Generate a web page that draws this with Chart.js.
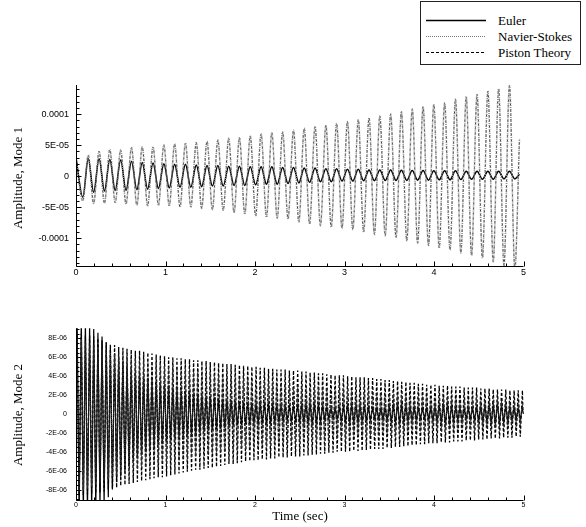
<!DOCTYPE html>
<html><head><meta charset="utf-8">
<script src="https://cdn.jsdelivr.net/npm/chart.js@4/dist/chart.umd.min.js"></script>
<style>
html,body{margin:0;padding:0;background:#fff;}
body{width:586px;height:527px;position:relative;overflow:hidden;font-family:"Liberation Serif","Times New Roman",serif;color:#000;}
canvas{position:absolute;left:0;}
#c1{top:0;}
#c2{top:300px;}
.ytitle{position:absolute;font-size:13px;white-space:nowrap;transform:translate(-50%,-50%) rotate(-90deg);line-height:13px;}
#xtitle{position:absolute;font-size:13px;white-space:nowrap;transform:translate(-50%,-50%);line-height:13px;}
#legend{position:absolute;left:420px;top:1px;width:161px;height:64px;border:1px solid #222;box-sizing:border-box;background:#fff;}
.lrow{position:absolute;left:0;height:13px;line-height:13px;font-size:13px;white-space:nowrap;}
.lrow svg{position:absolute;left:5px;top:5px;}
.lrow span{position:absolute;left:77px;top:0;}
</style>
</head><body>
<canvas id="c1" width="586" height="290"></canvas>
<canvas id="c2" width="586" height="227"></canvas>
<div class="ytitle" style="left:17px;top:178px;">Amplitude, Mode 1</div>
<div class="ytitle" style="left:17px;top:415px;">Amplitude, Mode 2</div>
<div id="xtitle" style="left:300px;top:515px;">Time (sec)</div>
<div id="legend">
  <div class="lrow" style="top:12px"><svg width="62" height="3"><line x1="0" y1="1.5" x2="60" y2="1.5" stroke="#000" stroke-width="1.3"/></svg><span>Euler</span></div>
  <div class="lrow" style="top:28px"><svg width="62" height="3"><line x1="0" y1="1.5" x2="60" y2="1.5" stroke="#777" stroke-width="1" stroke-dasharray="1,1"/></svg><span>Navier-Stokes</span></div>
  <div class="lrow" style="top:44px"><svg width="62" height="3"><line x1="0" y1="1.5" x2="60" y2="1.5" stroke="#000" stroke-width="1" stroke-dasharray="3,2"/></svg><span>Piston Theory</span></div>
</div>
<script>
// ---------- Mode 1 (values in units of 1e-5) ----------
const mode1Times = [0,0.076,0.137,0.197,0.258,0.318,0.378,0.438,0.499,0.559,
0.620,0.680,0.740,0.800,0.861,0.921,0.982,1.042,1.102,1.162,
1.223,1.283,1.344,1.404,1.464,1.524,1.585,1.645,1.706,1.766,
1.826,1.886,1.947,2.007,2.068,2.128,2.188,2.248,2.309,2.369,
2.430,2.490,2.550,2.610,2.671,2.731,2.792,2.852,2.912,2.972,
3.033,3.093,3.154,3.214,3.274,3.334,3.395,3.455,3.516,3.576,
3.636,3.696,3.757,3.817,3.878,3.938,3.998,4.058,4.119,4.179,
4.240,4.300,4.360,4.420,4.481,4.541,4.602,4.662,4.722,4.782,
4.843,4.903,4.955];
const nsMode1 = [2.9,
-4.0,3.4,-4.4,4.0,-4.4,4.3,-4.3,4.2,-4.5,4.6,
-4.7,4.7,-4.8,4.7,-4.7,5.0,-4.8,5.2,-5.0,5.3,
-5.0,5.4,-5.2,5.6,-5.4,5.8,-5.5,6.1,-5.9,6.2,
-6.1,6.5,-6.4,6.8,-6.6,7.0,-6.8,7.1,-6.9,7.4,
-7.4,7.7,-7.7,8.0,-8.0,8.2,-8.2,8.5,-8.4,8.8,
-8.6,9.1,-9.0,9.4,-9.4,9.7,-9.6,10.0,-9.9,10.4,
-10.4,10.8,-10.8,11.2,-11.2,11.6,-11.6,11.8,-11.9,12.4,
-12.4,12.8,-12.8,13.2,-13.2,13.7,-13.8,14.1,-14.4,14.6,
-15.0,6.0];
// Piston theory and Navier-Stokes coincide for mode 1 in the picture
const pistonMode1 = [2.9,
-4.0,3.4,-4.4,4.0,-4.4,4.3,-4.3,4.2,-4.5,4.6,
-4.7,4.7,-4.8,4.7,-4.7,5.0,-4.8,5.2,-5.0,5.3,
-5.0,5.4,-5.2,5.6,-5.4,5.8,-5.5,6.1,-5.9,6.2,
-6.1,6.5,-6.4,6.8,-6.6,7.0,-6.8,7.1,-6.9,7.4,
-7.4,7.7,-7.7,8.0,-8.0,8.2,-8.2,8.5,-8.4,8.8,
-8.6,9.1,-9.0,9.4,-9.4,9.7,-9.6,10.0,-9.9,10.4,
-10.4,10.8,-10.8,11.2,-11.2,11.6,-11.6,11.8,-11.9,12.4,
-12.4,12.8,-12.8,13.2,-13.2,13.7,-13.8,14.1,-14.4,14.6,
-15.0,6.0];
const eulerMode1 = [3.0,
-3.4,2.8,-2.6,2.8,-2.4,2.7,-2.3,2.6,-2.3,2.4,
-2.2,2.2,-2.1,2.1,-2.0,2.0,-1.9,1.9,-1.8,1.9,
-1.8,1.8,-1.7,1.7,-1.6,1.7,-1.6,1.6,-1.5,1.6,
-1.5,1.5,-1.4,1.5,-1.3,1.5,-1.3,1.4,-1.2,1.4,
-1.1,1.3,-1.0,1.3,-0.9,1.2,-0.9,1.2,-0.8,1.1,
-0.8,1.1,-0.75,1.0,-0.75,1.0,-0.7,1.0,-0.7,0.95,
-0.7,0.9,-0.65,0.9,-0.65,0.85,-0.6,0.85,-0.6,0.85,
-0.55,0.8,-0.5,0.8,-0.5,0.8,-0.5,0.8,-0.45,0.8,
-0.45,0.3];

// ---------- Mode 2 (values in units of 1e-6) ----------
const mode2Times = [0,
0.012,0.035,0.059,0.082, 0.105,0.128,0.152,0.175, 0.198,0.221,0.245,0.268, 0.291,0.314,0.338,0.361,
0.384,0.407,0.431,0.454, 0.477,0.500,0.524,0.547, 0.570,0.593,0.617,0.640, 0.663,0.686,0.710,0.733,
0.756,0.779,0.803,0.826, 0.849,0.872,0.896,0.919, 0.942,0.965,0.989,1.012, 1.035,1.058,1.082,1.105,
1.128,1.151,1.175,1.198, 1.221,1.244,1.268,1.291, 1.314,1.337,1.361,1.384, 1.407,1.430,1.454,1.477,
1.500,1.523,1.547,1.570, 1.593,1.616,1.640,1.663, 1.686,1.709,1.733,1.756, 1.779,1.802,1.826,1.849,
1.872,1.895,1.919,1.942, 1.965,1.988,2.012,2.035, 2.058,2.081,2.105,2.128, 2.151,2.174,2.198,2.221,
2.244,2.267,2.291,2.314, 2.337,2.360,2.384,2.407, 2.430,2.453,2.477,2.500, 2.523,2.546,2.570,2.593,
2.616,2.639,2.663,2.686, 2.709,2.732,2.756,2.779, 2.802,2.825,2.849,2.872, 2.895,2.918,2.942,2.965,
2.988,3.011,3.035,3.058, 3.081,3.104,3.128,3.151, 3.174,3.197,3.221,3.244, 3.267,3.290,3.314,3.337,
3.360,3.383,3.407,3.430, 3.453,3.476,3.500,3.523, 3.546,3.569,3.593,3.616, 3.639,3.662,3.686,3.709,
3.732,3.755,3.779,3.802, 3.825,3.848,3.872,3.895, 3.918,3.941,3.965,3.988, 4.011,4.034,4.058,4.081,
4.104,4.127,4.151,4.174, 4.197,4.220,4.244,4.267, 4.290,4.313,4.337,4.360, 4.383,4.406,4.430,4.453,
4.476,4.499,4.523,4.546, 4.569,4.592,4.616,4.639, 4.662,4.685,4.709,4.732, 4.755,4.778,4.802,4.825,
4.848,4.871,4.895,4.918, 4.941,4.964,4.988,
5.0];
const pistonMode2 = [0,
8.4,-8.6,8.5,-8.6, 8.3,-8.5,8.3,-8.5, 8.2,-8.4,8.0,-8.3, 7.8,-8.2,7.6,-8.0,
7.4,-7.9,7.3,-7.8, 7.1,-7.6,7.0,-7.5, 6.9,-7.4,6.8,-7.3, 6.7,-7.2,6.7,-7.1,
6.6,-7.0,6.5,-6.9, 6.4,-6.8,6.3,-6.7, 6.2,-6.7,6.1,-6.6, 6.0,-6.5,6.0,-6.4,
5.9,-6.3,5.9,-6.2, 5.8,-6.1,5.8,-6.0, 5.7,-5.9,5.7,-5.9, 5.6,-5.8,5.6,-5.7,
5.5,-5.7,5.5,-5.6, 5.4,-5.5,5.4,-5.4, 5.3,-5.3,5.3,-5.3, 5.2,-5.2,5.2,-5.1,
5.1,-5.0,5.1,-5.0, 5.0,-4.9,5.0,-4.9, 4.9,-4.8,4.9,-4.8, 4.8,-4.7,4.8,-4.7,
4.7,-4.6,4.7,-4.6, 4.7,-4.6,4.6,-4.5, 4.6,-4.5,4.6,-4.5, 4.5,-4.4,4.5,-4.4,
4.4,-4.3,4.4,-4.3, 4.3,-4.2,4.3,-4.2, 4.2,-4.1,4.2,-4.1, 4.1,-4.0,4.1,-4.0,
4.1,-4.0,4.0,-4.0, 4.0,-3.9,3.9,-3.9, 3.9,-3.9,3.9,-3.8, 3.8,-3.8,3.8,-3.7,
3.7,-3.7,3.7,-3.7, 3.6,-3.6,3.6,-3.6, 3.5,-3.5,3.5,-3.5, 3.4,-3.4,3.4,-3.4,
3.3,-3.3,3.3,-3.3, 3.2,-3.2,3.2,-3.2, 3.1,-3.1,3.1,-3.1, 3.1,-3.1,3.0,-3.0,
3.0,-3.0,3.0,-3.0, 2.9,-2.9,2.9,-2.9, 2.9,-2.9,2.8,-2.8, 2.8,-2.8,2.8,-2.8,
2.8,-2.7,2.7,-2.7, 2.7,-2.7,2.7,-2.6, 2.6,-2.6,2.6,-2.6, 2.6,-2.5,2.6,-2.5,
2.5,-2.5,2.5,-2.4, 2.5,-2.4,2.5,
0];
const nsMode2 = [0,
8.0,-8.2,7.9,-8.1, 7.7,-7.9,7.5,-7.7, 7.3,-7.5,7.1,-7.3, 6.9,-7.1,6.8,-6.9,
6.6,-6.7,6.4,-6.5, 6.2,-6.3,6.1,-6.2, 6.0,-6.0,5.9,-5.9, 5.8,-5.8,5.7,-5.7,
5.6,-5.6,5.5,-5.5, 5.4,-5.4,5.3,-5.3, 5.2,-5.2,5.1,-5.1, 5.0,-5.0,4.9,-4.9,
4.8,-4.9,4.8,-4.8, 4.7,-4.7,4.6,-4.6, 4.5,-4.5,4.5,-4.4, 4.4,-4.3,4.3,-4.3,
4.2,-4.2,4.2,-4.1, 4.1,-4.1,4.0,-4.0, 4.0,-3.9,3.9,-3.9, 3.8,-3.8,3.8,-3.7,
3.7,-3.7,3.6,-3.6, 3.6,-3.5,3.5,-3.5, 3.4,-3.4,3.4,-3.4, 3.3,-3.3,3.3,-3.3,
3.2,-3.2,3.2,-3.1, 3.1,-3.1,3.1,-3.0, 3.0,-3.0,3.0,-2.9, 2.9,-2.9,2.9,-2.9,
2.8,-2.8,2.8,-2.8, 2.8,-2.7,2.7,-2.7, 2.7,-2.7,2.6,-2.6, 2.6,-2.6,2.6,-2.5,
2.5,-2.5,2.5,-2.5, 2.5,-2.4,2.4,-2.4, 2.4,-2.4,2.3,-2.3, 2.3,-2.3,2.3,-2.2,
2.2,-2.2,2.2,-2.2, 2.2,-2.1,2.1,-2.1, 2.1,-2.1,2.1,-2.0, 2.0,-2.0,2.0,-2.0,
2.0,-1.9,1.9,-1.9, 1.9,-1.9,1.9,-1.9, 1.9,-1.8,1.8,-1.8, 1.8,-1.8,1.8,-1.8,
1.8,-1.7,1.7,-1.7, 1.7,-1.7,1.7,-1.7, 1.7,-1.6,1.6,-1.6, 1.6,-1.6,1.6,-1.6,
1.6,-1.6,1.5,-1.5, 1.5,-1.5,1.5,-1.5, 1.5,-1.5,1.5,-1.4, 1.4,-1.4,1.4,-1.4,
1.4,-1.4,1.4,-1.4, 1.4,-1.3,1.3,
0];
const eulerMode2 = [0,
10.5,-10.8,10.2,-10.6, 9.8,-10.4,9.4,-10.2, 9.0,-10.0,8.6,-9.7, 8.2,-9.4,7.6,-8.8,
7.0,-8.0,6.4,-7.2, 5.9,-6.6,5.5,-6.0, 5.1,-5.5,4.8,-5.0, 4.5,-4.6,4.2,-4.3,
4.0,-4.0,3.8,-3.7, 3.6,-3.5,3.4,-3.3, 3.2,-3.1,3.1,-2.9, 2.9,-2.8,2.8,-2.6,
2.6,-2.5,2.5,-2.4, 2.4,-2.3,2.3,-2.2, 2.2,-2.1,2.1,-2.0, 2.0,-1.9,1.9,-1.8,
1.9,-1.7,1.8,-1.6, 1.7,-1.6,1.6,-1.5, 1.5,-1.4,1.5,-1.3, 1.4,-1.2,1.3,-1.2,
1.3,-1.1,1.2,-1.1, 1.2,-1.0,1.1,-1.0, 1.1,-0.9,1.0,-0.9, 1.0,-0.9,1.0,-0.8,
0.9,-0.8,0.9,-0.8, 0.9,-0.7,0.8,-0.7, 0.8,-0.7,0.9,-0.8, 1.0,-0.9,1.1,-1.0,
1.1,-1.0,1.0,-0.9, 0.9,-0.8,0.8,-0.6, 0.7,-0.5,0.6,-0.5, 0.6,-0.6,0.7,-0.7,
0.8,-0.8,0.9,-0.9, 1.0,-0.9,1.0,-0.9, 0.9,-0.8,0.8,-0.7, 0.7,-0.6,0.6,-0.5,
0.6,-0.5,0.6,-0.6, 0.7,-0.7,0.8,-0.8, 0.9,-0.9,1.0,-0.9, 1.0,-0.9,0.9,-0.8,
0.8,-0.7,0.7,-0.6, 0.6,-0.5,0.6,-0.5, 0.6,-0.6,0.7,-0.7, 0.8,-0.8,0.9,-0.9,
1.0,-1.0,1.0,-0.9, 0.9,-0.8,0.8,-0.7, 0.7,-0.6,0.6,-0.5, 0.6,-0.5,0.6,-0.6,
0.7,-0.7,0.8,-0.8, 0.9,-0.9,1.0,-1.0, 1.0,-1.0,1.1,-1.0, 1.0,-0.9,0.9,-0.8,
0.8,-0.7,0.7,-0.6, 0.6,-0.6,0.7,
0];

// ---------- Ticks ----------
const xTickValues = [0,1,2,3,4,5];
const xTickLabels = ['0','1','2','3','4','5'];
const y1TickValues = [-10,-5,0,5,10];
const y1TickLabels = ['-0.0001','-5E-05','0','5E-05','0.0001'];
const y2TickValues = [-8,-6,-4,-2,0,2,4,6,8];
const y2TickLabels = ['-8E-06','-6E-06','-4E-06','-2E-06','0','2E-06','4E-06','6E-06','8E-06'];

function pts(times, vals){ return times.map((t,i)=>({x:t,y:vals[i]})); }

const axisTicks = {
  id:'axisTicks',
  afterDraw(chart, args, o){
    const {ctx, scales:{x,y}} = chart;
    const L = Math.round(x.left)+0.5, B = Math.round(y.bottom)+0.5, T = y.top, R = x.right;
    ctx.save();
    ctx.strokeStyle='#000'; ctx.lineWidth=1;
    ctx.beginPath();
    ctx.moveTo(L, T); ctx.lineTo(L, B); ctx.lineTo(R, B);
    for(let v=o.xMin; v<=o.xMax+1e-9; v+=o.xMinorStep){
      const px=Math.round(x.getPixelForValue(v))+0.5;
      const major=Math.abs(v-Math.round(v))<1e-6;
      ctx.moveTo(px,B); ctx.lineTo(px,B-(major?o.majorLen:o.minorLen));
    }
    for(let v=o.yMinorStart; v<=o.yMinorEnd+1e-9; v+=o.yMinorStep){
      const py=Math.round(y.getPixelForValue(v))+0.5;
      const major=o.yMajor.some(m=>Math.abs(m-v)<1e-6);
      ctx.moveTo(L,py); ctx.lineTo(L+(major?o.majorLen:o.minorLen),py);
    }
    ctx.stroke();
    ctx.restore();
  }
};

function makeChart(id, datasets, cfg){
  return new Chart(document.getElementById(id), {
    type:'line',
    data:{datasets},
    plugins:[axisTicks],
    options:{
      responsive:false, animation:false, events:[],
      layout:{padding:{left:0,right:cfg.padRight,top:cfg.padTop,bottom:0}},
      plugins:{legend:{display:false},tooltip:{enabled:false},axisTicks:cfg.ticks},
      elements:{point:{radius:0}},
      scales:{
        x:{type:'linear',min:0,max:5,
           grid:{display:false,drawTicks:false},border:{display:false},
           afterBuildTicks:s=>{s.ticks=xTickValues.map(v=>({value:v}));},
           afterFit:s=>{s.height=cfg.xHeight;},
           ticks:{autoSkip:false,maxRotation:0,padding:cfg.xPad,color:'#000',
                  font:{family:'Liberation Sans, Arial, sans-serif',size:cfg.xFont},
                  callback:v=>xTickLabels[xTickValues.indexOf(v)]}},
        y:{min:cfg.yMin,max:cfg.yMax,
           grid:{display:false,drawTicks:false},border:{display:false},
           afterBuildTicks:s=>{s.ticks=cfg.yVals.map(v=>({value:v}));},
           afterFit:s=>{s.width=76;},
           ticks:{autoSkip:false,padding:cfg.yPad,color:'#000',
                  font:{family:'Liberation Sans, Arial, sans-serif',size:cfg.yFont},
                  callback:v=>cfg.yLabels[cfg.yVals.indexOf(v)]}}
      }
    }
  });
}

makeChart('c1', [
  {label:'Navier-Stokes', data:pts(mode1Times,nsMode1), borderColor:'#8a8a8a', borderWidth:1.6, borderDash:[1,1], cubicInterpolationMode:'monotone', fill:false},
  {label:'Piston Theory', data:pts(mode1Times,pistonMode1), borderColor:'#000', borderWidth:0.8, borderDash:[2,3], cubicInterpolationMode:'monotone', fill:false},
  {label:'Euler', data:pts(mode1Times,eulerMode1), borderColor:'#000', borderWidth:1.5, cubicInterpolationMode:'monotone', fill:false}
], {padRight:62.5, padTop:85, xHeight:24, xPad:1, xFont:9, yPad:7, yFont:9,
    yMin:-14.5, yMax:14.7, yVals:y1TickValues, yLabels:y1TickLabels,
    ticks:{xMin:0,xMax:5,xMinorStep:0.2,majorLen:5,minorLen:3,
           yMinorStart:-14,yMinorEnd:14,yMinorStep:1,yMajor:y1TickValues}});

makeChart('c2', [
  {label:'Navier-Stokes', data:pts(mode2Times,nsMode2), borderColor:'#333', borderWidth:1.1, borderDash:[1,1], tension:0, fill:false},
  {label:'Piston Theory', data:pts(mode2Times,pistonMode2), borderColor:'#000', borderWidth:1.3, borderDash:[3,2], tension:0, fill:false},
  {label:'Euler', data:pts(mode2Times,eulerMode2), borderColor:'#000', borderWidth:1.2, tension:0, fill:false}
], {padRight:62.5, padTop:28.3, xHeight:27, xPad:1, xFont:7, yPad:9, yFont:7,
    yMin:-9.1, yMax:9.07, yVals:y2TickValues, yLabels:y2TickLabels,
    ticks:{xMin:0,xMax:5,xMinorStep:0.2,majorLen:5,minorLen:3,
           yMinorStart:-9,yMinorEnd:9,yMinorStep:0.5,yMajor:y2TickValues}});
</script>
</body></html>
